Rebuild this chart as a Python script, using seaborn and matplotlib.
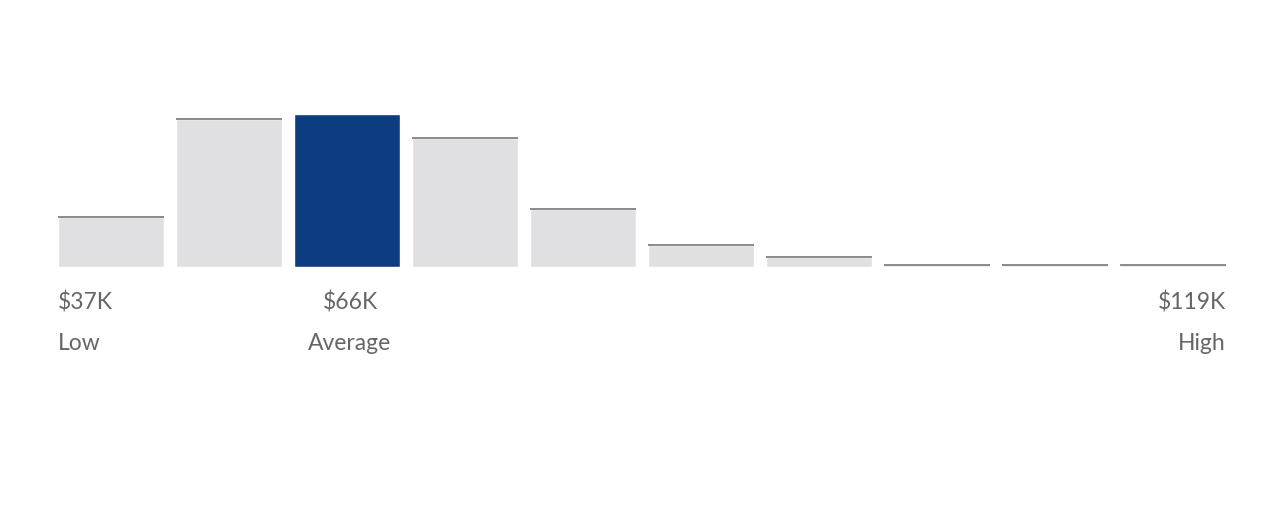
import pandas as pd
import matplotlib.pyplot as plt
import seaborn as sns

# histogram of salary bins (relative bar heights)
bins = [f"b{i}" for i in range(10)]
counts = [50, 148, 153, 129, 58, 22, 10, 2, 2, 2]
highlight = "b2"
axis_labels = [("$37K", "Low"), ("$66K", "Average"), ("$119K", "High")]
label_bins = ["b0", "b2", "b9"]

grey = "#e0e0e3"
blue = "#0d3d80"
text_col = "#666666"

sns.set_theme(style="white")
plt.rcParams['font.family'] = ['Lato', 'DejaVu Sans']

df = pd.DataFrame({"bin": bins, "count": counts})
palette = {b: (blue if b == highlight else grey) for b in bins}

fig = plt.figure(figsize=(12.8, 5.18), dpi=100)
ax = fig.add_axes([58 / 1280, 251 / 518, (1226 - 58) / 1280, 160 / 518])
sns.barplot(data=df, x="bin", y="count", hue="bin", palette=palette,
            width=0.9, legend=False, saturation=1, ax=ax)

# darker top edge on the grey bars
for patch, b in zip(ax.patches, bins):
    if b == highlight:
        continue
    x0 = patch.get_x()
    top = patch.get_height()
    ax.plot([x0, x0 + patch.get_width()], [top, top], color="#8a8a8a", lw=1.4,
            solid_capstyle="butt")

ax.set_xlim(-0.45, 9.45)
ax.set_ylim(0, 160)
ax.axis("off")

trans = ax.get_xaxis_transform()
pos = {b: i for i, b in enumerate(bins)}
aligns = ["left", "center", "right"]
xs = [pos["b0"] - 0.45, pos["b2"] + 0.025, pos["b9"] + 0.45]
for (val, name), x, ha in zip(axis_labels, xs, aligns):
    ax.text(x, -0.225, val, transform=trans, ha=ha, va="center",
            fontsize=16.5, color=text_col)
    ax.text(x, -0.475, name, transform=trans, ha=ha, va="center",
            fontsize=16.5, color=text_col)

plt.savefig("out.png", dpi=100)
